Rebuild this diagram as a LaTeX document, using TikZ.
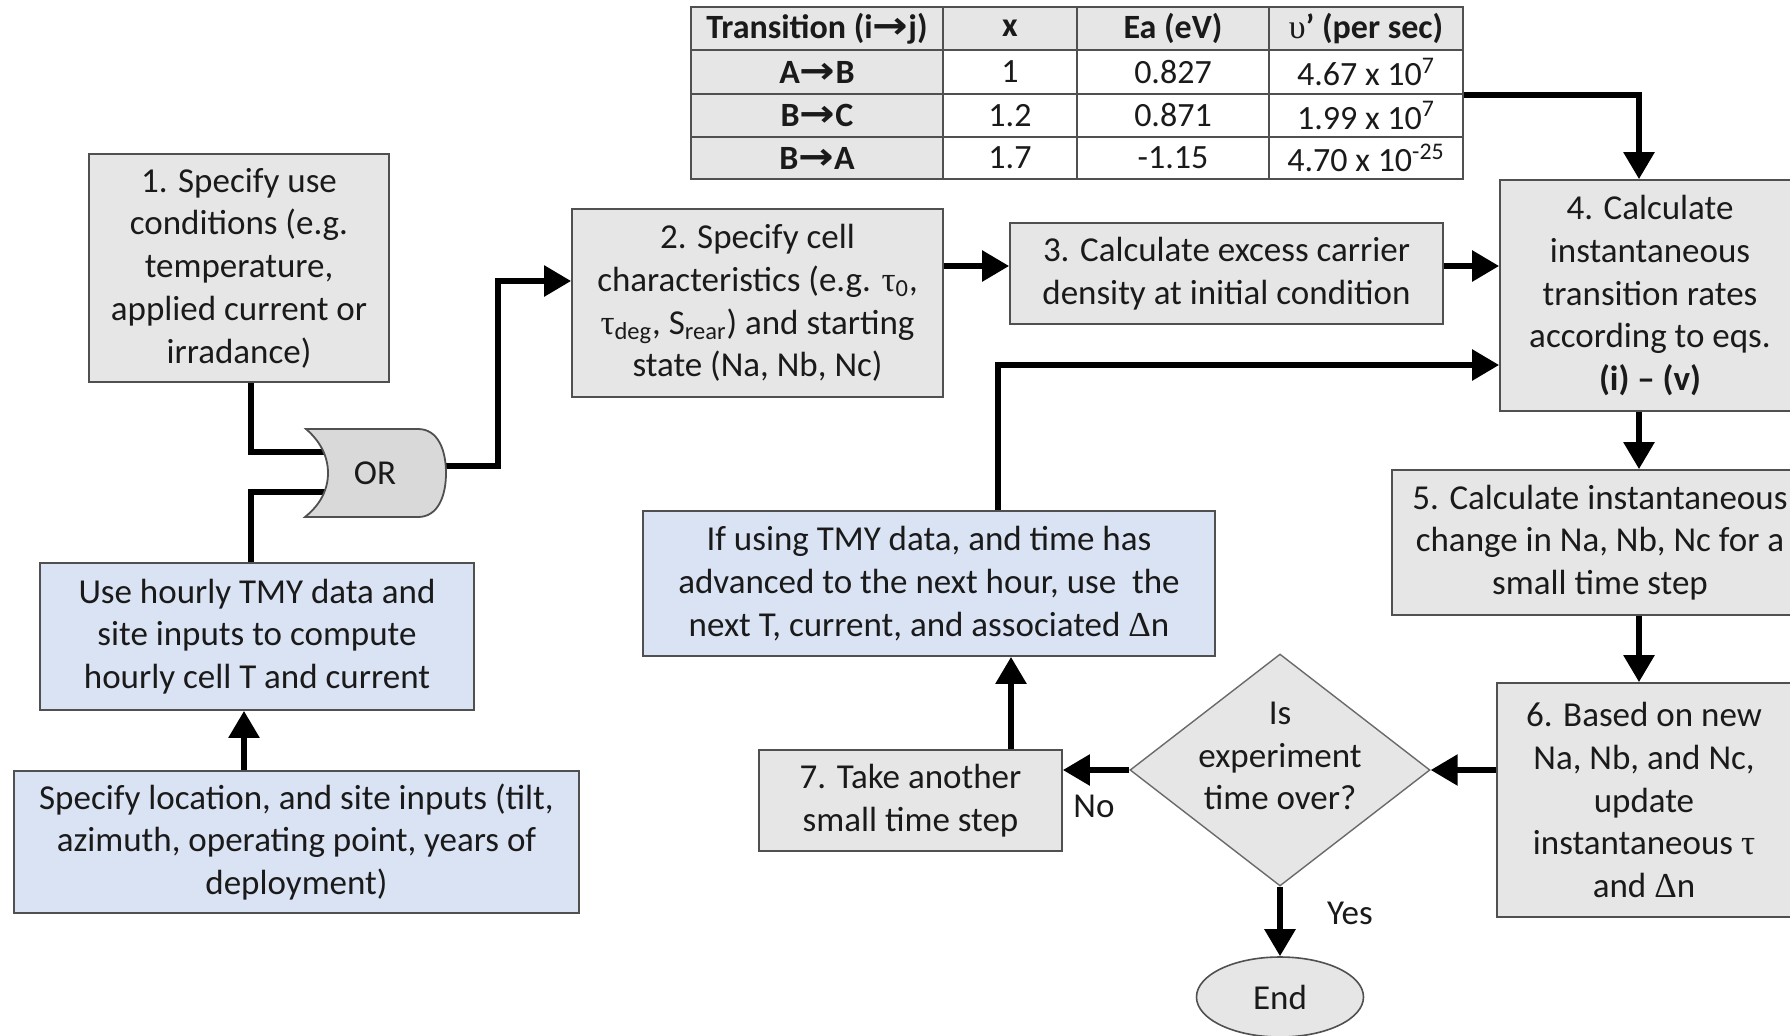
\documentclass[tikz,border=0pt]{standalone}
\usepackage{fontspec}
\setmainfont{Carlito}
\newfontfamily\symfont{DejaVu Sans}
\newfontfamily\greekfont{Liberation Serif}
\usetikzlibrary{arrows.meta,shapes.geometric,calc}

\definecolor{boxgray}{HTML}{E6E6E6}
\definecolor{boxblue}{HTML}{DAE3F3}
\definecolor{gategray}{HTML}{D9D9D9}
\definecolor{edge}{HTML}{505050}
\definecolor{ink}{HTML}{1A1A1A}

\newcommand{\trarrow}{\scalebox{1.25}[1.1]{\symfont\bfseries →}}
\newcommand{\gtau}{{\greekfont τ}}
\newcommand{\gDelta}{{\greekfont Δ}}

\begin{document}
\begin{tikzpicture}[x=0.5pt, y=-0.5pt,
  every node/.style={text=ink, font=\fontsize{17.5}{21.4}\selectfont},
  box/.style={draw=edge, line width=0.9pt, fill=boxgray, align=center, inner sep=2pt},
  bluebox/.style={box, fill=boxblue},
  cell/.style={draw=edge, line width=0.8pt, inner sep=0pt, font=\fontsize{17}{20}\selectfont},
  hcell/.style={cell, fill=boxgray, font=\fontsize{17}{20}\selectfont\bfseries},
  flow/.style={line width=2.9pt, -{Triangle[length=13.5pt,width=15pt]}},
  wire/.style={line width=2.9pt},
]
\useasboundingbox (0,0) rectangle (1790,1035);
\fill[white] (0,0) rectangle (1790,1035);
\clip (0,0) rectangle (1790,1035);

% ---- rate table ----
\node[hcell, minimum width=126pt, minimum height=21.5pt] (t01) at (817,28.5) {Transition (i\trarrow j)};
\node[hcell, minimum width=67pt, minimum height=21.5pt] (t02) at (1010,28.5) {x};
\node[hcell, minimum width=96pt, minimum height=21.5pt] (t03) at (1173,28.5) {Ea (eV)};
\node[hcell, minimum width=97pt, minimum height=21.5pt] (t04) at (1366,28.5) {{\greekfont\mdseries υ}’ (per sec)};

\node[hcell, minimum width=126pt, minimum height=22pt] (t11) at (817,72) {A\trarrow B};
\node[cell, minimum width=67pt, minimum height=22pt] (t12) at (1010,72) {1};
\node[cell, minimum width=96pt, minimum height=22pt] (t13) at (1173,72) {0.827};
\node[cell, minimum width=97pt, minimum height=22pt] (t14) at (1366,72) {4.67 x 10\textsuperscript{7}};

\node[hcell, minimum width=126pt, minimum height=21.5pt] (t21) at (817,115.5) {B\trarrow C};
\node[cell, minimum width=67pt, minimum height=21.5pt] (t22) at (1010,115.5) {1.2};
\node[cell, minimum width=96pt, minimum height=21.5pt] (t23) at (1173,115.5) {0.871};
\node[cell, minimum width=97pt, minimum height=21.5pt] (t24) at (1366,115.5) {1.99 x 10\textsuperscript{7}};

\node[hcell, minimum width=126pt, minimum height=21pt] (t31) at (817,158) {B\trarrow A};
\node[cell, minimum width=67pt, minimum height=21pt] (t32) at (1010,158) {1.7};
\node[cell, minimum width=96pt, minimum height=21pt] (t33) at (1173,158) {-1.15};
\node[cell, minimum width=97pt, minimum height=21pt] (t34) at (1366,158) {4.70 x 10\textsuperscript{-25}};

% ---- process steps ----
\node[box, minimum width=150pt, minimum height=114pt] (s1) at (239,268)
  {1. Specify use\\conditions (e.g.\\temperature,\\applied current or\\irradance)};
\node[box, minimum width=185.5pt, minimum height=94pt] (s2) at (757.5,303)
  {2. Specify cell\\characteristics (e.g. \gtau\textsubscript{0},\\\gtau\textsubscript{deg}, S\textsubscript{rear}) and starting\\state (Na, Nb, Nc)};
\node[box, minimum width=216.5pt, minimum height=50.5pt] (s3) at (1226.5,273.5)
  {3. Calculate excess carrier\\density at initial condition};
\node[box, minimum width=150pt, minimum height=115.5pt] (s4) at (1650,295.5)
  {4. Calculate\\instantaneous\\transition rates\\according to eqs.\\\textbf{(i) – (v)}};
\node[box, minimum width=208pt, minimum height=72.5pt] (s5) at (1600,542.5)
  {5. Calculate instantaneous\\change in Na, Nb, Nc for a\\small time step};
\node[box, minimum width=147pt, minimum height=117pt] (s6) at (1644,800)
  {6. Based on new\\Na, Nb, and Nc,\\update\\instantaneous \gtau\\and \gDelta n};
\node[diamond, draw=edge!85, line width=0.7pt, fill=boxgray, minimum width=150pt,
  minimum height=116pt, inner sep=0pt] (dec) at (1280,770) {};
\node[align=center] (dect) at (1280,756) {Is\\experiment\\time over?};
\node[box, minimum width=151.5pt, minimum height=50.5pt] (s7) at (910.5,800.5)
  {7. Take another\\small time step};
\node[bluebox, minimum width=286pt, minimum height=72.5pt] (tmy) at (929,583.5)
  {If using TMY data, and time has\\advanced to the next hour, use\ \ the\\next T, current, and associated \gDelta n};
\node[bluebox, minimum width=217pt, minimum height=73.5pt] (hourly) at (257,636.5)
  {Use hourly TMY data and\\site inputs to compute\\hourly cell T and current};
\node[bluebox, minimum width=282.5pt, minimum height=71pt] (site) at (296.5,842)
  {Specify location, and site inputs (tilt,\\azimuth, operating point, years of\\deployment)};
\node[ellipse, draw=edge, line width=0.8pt, fill=boxgray, minimum width=83.5pt,
  minimum height=40pt, inner sep=0pt] (fin) at (1280,997) {End};

% ---- routing points ----
\coordinate (colR) at (1639,0);
\coordinate (colM) at (1011,0);
\coordinate (colL) at (998,0);
\coordinate (rowL) at (0,365);
\coordinate (rowU) at (0,266);
\coordinate (colB) at (244,0);
\coordinate (colG) at (251,0);
\coordinate (colO) at (498,0);
\coordinate (rowIn) at (0,281);
\coordinate (gin1) at (328,452);
\coordinate (gin2) at (328,492);
\coordinate (gout) at (444,466);

% ---- connectors ----
\draw[wire] (s1.south -| colG) |- (gin1);
\draw[wire] (hourly.north -| colG) |- (gin2);
\draw[flow] (gout) -| (colO |- rowIn) -- (s2.west |- rowIn);
\draw[flow] (site.north -| colB) -- (hourly.south -| colB);
\draw[flow] (s2.east |- rowU) -- (s3.west |- rowU);
\draw[flow] (s3.east |- rowU) -- (s4.west |- rowU);
\draw[flow] (t14.south east) -| (s4.north -| colR);
\draw[flow] (s4.south -| colR) -- (s5.north -| colR);
\draw[flow] (s5.south -| colR) -- (s6.north -| colR);
\draw[flow] (s6.west |- dec.east) -- (dec.east);
\draw[flow] (dec.west) -- (dec.west -| s7.east);
\draw[flow] (s7.north -| colM) -- (tmy.south -| colM);
\draw[flow] (tmy.north -| colL) |- (s4.west |- rowL);
\draw[flow] (dec.south) -- (fin.north);

\node (lno) at (1094,806) {No};
\node (lyes) at (1350,913) {Yes};

% ---- OR gate ----
\draw[draw=edge, line width=0.9pt, fill=gategray]
  (306,429) -- (418,429) .. controls (438,429) and (446,450) .. (446,473)
  .. controls (446,496) and (438,517) .. (418,517) -- (305,517)
  .. controls (320,505) and (328,490) .. (328,473)
  .. controls (328,456) and (320,441) .. (306,429) -- cycle;
\node (orl) at (375,473) {OR};
\end{tikzpicture}
\end{document}
